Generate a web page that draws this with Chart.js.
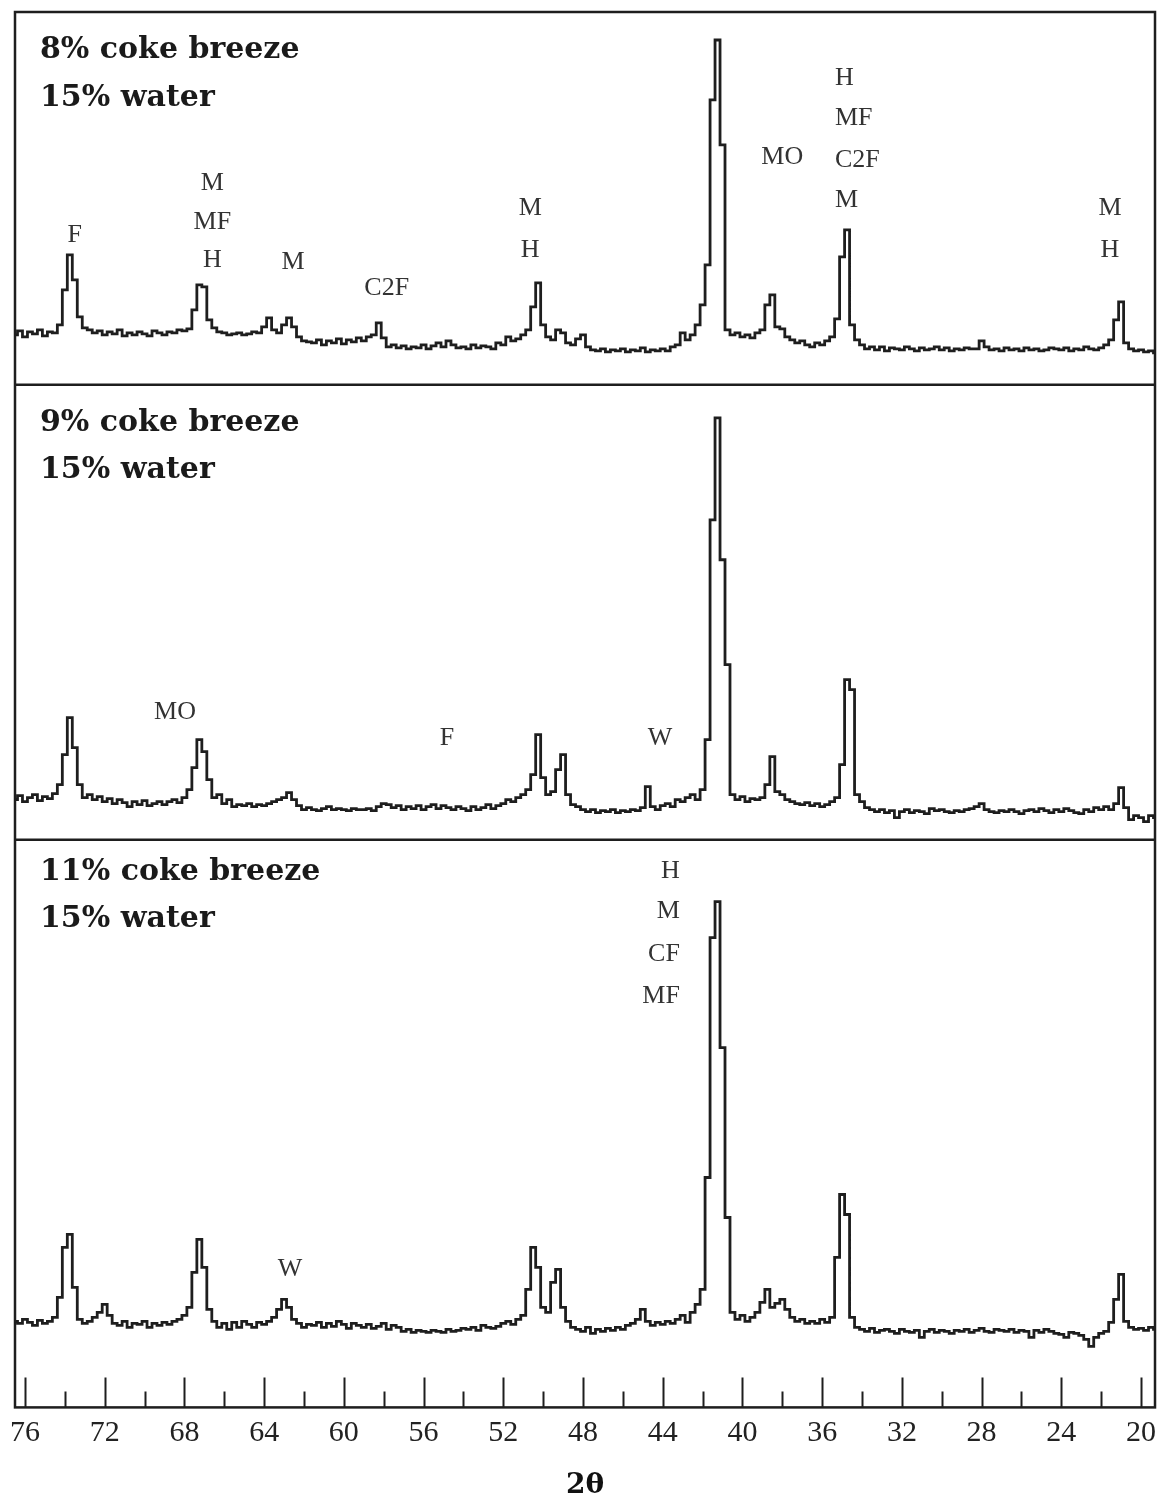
<!DOCTYPE html>
<html>
<head>
<meta charset="utf-8">
<title>XRD patterns - coke breeze</title>
<script src="https://cdn.jsdelivr.net/npm/chart.js@4.4.1/dist/chart.umd.min.js"></script>
<style>
  html, body { margin: 0; padding: 0; background: #fff; }
  #wrap { width: 1165px; height: 1503px; }
</style>
</head>
<body>
<div id="wrap"><canvas id="xrd" width="1165" height="1503"></canvas></div>
<script>
// scan grid: 76.5 -> 19.25 deg 2-theta, 0.25 deg step (230 points)
const scanStart = 76.5;
const scanStep = 0.25;
const scanPoints = 230;
const twoTheta = [];
for (let i = 0; i < scanPoints; i++) twoTheta.push(+(scanStart - i * scanStep).toFixed(2));

// axis labels
const tickLabels = [76, 72, 68, 64, 60, 56, 52, 48, 44, 40, 36, 32, 28, 24, 20];
const minorTicks = [74, 70, 66, 62, 58, 54, 50, 46, 42, 38, 34, 30, 26, 22];

// 8% coke breeze, 15% water (intensity, arb. units)
const intensity8 = [
  50, 54, 48, 53, 51, 55, 49, 53, 52, 60,
  95, 130, 105, 68, 57, 55, 52, 54, 50, 53,
  51, 55, 49, 52, 50, 53, 51, 49, 54, 52,
  50, 53, 52, 55, 54, 56, 75, 100, 98, 65,
  57, 53, 52, 50, 51, 52, 50, 51, 53, 52,
  58, 67, 55, 52, 60, 67, 58, 48, 44, 43,
  42, 45, 40, 44, 42, 46, 41, 45, 43, 47,
  44, 48, 50, 62, 47, 38, 40, 37, 39, 36,
  38, 37, 40, 36, 39, 42, 38, 44, 40, 37,
  38, 36, 40, 37, 39, 38, 36, 42, 40, 48,
  44, 46, 50, 55, 78, 102, 60, 48, 45, 55,
  52, 42, 40, 46, 50, 38, 35, 34, 36, 33,
  35, 34, 36, 33, 35, 34, 37, 33, 35, 34,
  36, 34, 38, 40, 52, 45, 50, 60, 80, 120,
  285, 345, 240, 55, 50, 52, 48, 50, 47, 52,
  55, 80, 90, 58, 56, 48, 45, 42, 44, 40,
  38, 42, 40, 44, 48, 66, 128, 155, 60, 45,
  40, 36, 38, 35, 38, 34, 37, 36, 35, 38,
  36, 34, 37, 35, 36, 38, 35, 37, 34, 36,
  35, 37, 36, 36, 44, 38, 35, 36, 34, 37,
  35, 36, 34, 37, 35, 36, 34, 35, 37, 36,
  35, 37, 34, 36, 35, 38, 36, 35, 37, 40,
  45, 65, 83, 42, 36, 34, 35, 33, 34, 32
];

// 9% coke breeze, 15% water
const intensity9 = [
  40, 44, 38, 42, 45, 39, 43, 41, 46, 55,
  85, 122, 92, 55, 42, 45, 40, 43, 38, 41,
  36, 40, 37, 33, 38, 35, 39, 34, 36, 38,
  35, 38, 40, 37, 42, 50, 72, 100, 88, 60,
  42, 45, 36, 40, 33, 35, 34, 36, 33, 35,
  34, 36, 38, 40, 42, 47, 40, 34, 30, 32,
  30, 29, 31, 33, 30, 31, 30, 29, 31, 30,
  30, 31, 29, 33, 36, 35, 32, 34, 30, 33,
  31, 34, 30, 33, 35, 31, 34, 32, 30, 33,
  31, 29, 33, 30, 32, 35, 31, 34, 36, 40,
  38, 42, 45, 50, 65, 105, 62, 45, 48, 70,
  85, 45, 35, 33, 30, 28, 30, 27, 29, 28,
  30, 27, 29, 28, 30, 29, 32, 53, 33, 30,
  34, 36, 33, 40, 38, 42, 45, 40, 50, 100,
  320, 422, 280, 175, 45, 40, 43, 38, 41, 40,
  42, 55, 83, 48, 45, 40, 38, 36, 35, 37,
  34, 36, 33, 35, 38, 42, 75, 160, 150, 45,
  38, 32, 30, 28, 30, 27, 29, 22, 28, 30,
  27, 29, 28, 26, 31, 29, 30, 28, 27, 29,
  28, 30, 31, 33, 36, 30, 28, 27, 29, 28,
  30, 28, 26, 29, 30, 28, 31, 29, 27, 30,
  28, 31, 29, 27, 26, 30, 28, 32, 30, 33,
  30, 36, 52, 32, 20, 24, 22, 18, 24, 22
];

// 11% coke breeze, 15% water
const intensity11 = [
  86, 84, 88, 85, 82, 87, 84, 86, 90, 110,
  160, 173, 120, 88, 84, 86, 90, 95, 103, 92,
  84, 82, 86, 80, 84, 83, 86, 80, 84, 82,
  85, 83, 86, 88, 92, 100, 135, 168, 140, 98,
  86, 80, 84, 78, 85, 80, 86, 83, 80, 85,
  83, 86, 90, 98, 108, 100, 88, 84, 80, 83,
  82, 85, 80, 84, 81, 86, 83, 79, 84, 82,
  80, 83, 79, 81, 84, 78, 82, 80, 76, 78,
  75, 77, 76, 75, 77, 76, 75, 78, 76, 77,
  79, 78, 80, 77, 82, 80, 79, 81, 84, 86,
  83, 88, 92, 118, 160, 140, 100, 95, 125, 138,
  100, 86, 80, 78, 76, 80, 74, 78, 76, 79,
  77, 80, 78, 82, 84, 88, 98, 86, 82, 85,
  83, 86, 84, 88, 92, 85, 95, 103, 118, 230,
  470, 506, 360, 190, 95, 88, 92, 86, 90, 95,
  105, 118, 100, 104, 108, 98, 90, 86, 88, 84,
  86, 84, 88, 85, 90, 150, 213, 193, 90, 80,
  78, 76, 79, 75, 77, 78, 76, 74, 78, 76,
  75, 77, 70, 76, 78, 75, 77, 76, 74, 77,
  76, 78, 75, 77, 79, 76, 75, 78, 77, 76,
  78, 75, 77, 76, 70, 77, 75, 78, 76, 74,
  73, 70, 75, 74, 72, 68, 61, 70, 74, 76,
  85, 108, 133, 86, 80, 78, 79, 77, 80, 78
];

// panel captions
const captions = {
  yTop: ['8% coke breeze', '15% water'],
  yMiddle: ['9% coke breeze', '15% water'],
  yBottom: ['11% coke breeze', '15% water']
};
const captionOffsets = { yTop: [38, 86], yMiddle: [38, 85], yBottom: [33, 80] };

// phase identification labels (F, M, H, MF, C2F, CF, MO, W)
const phaseLabels = [
  { panel: 'yTop', at: 73.5, level: 150, text: 'F' },
  { panel: 'yTop', at: 66.6, level: 202, text: 'M' },
  { panel: 'yTop', at: 66.6, level: 163, text: 'MF' },
  { panel: 'yTop', at: 66.6, level: 125, text: 'H' },
  { panel: 'yTop', at: 62.55, level: 123, text: 'M' },
  { panel: 'yTop', at: 57.85, level: 97, text: 'C2F' },
  { panel: 'yTop', at: 50.65, level: 177, text: 'M' },
  { panel: 'yTop', at: 50.65, level: 135, text: 'H' },
  { panel: 'yTop', at: 38.0, level: 228, text: 'MO' },
  { panel: 'yTop', at: 35.36, level: 307, text: 'H', align: 'left' },
  { panel: 'yTop', at: 35.36, level: 267, text: 'MF', align: 'left' },
  { panel: 'yTop', at: 35.36, level: 225, text: 'C2F', align: 'left' },
  { panel: 'yTop', at: 35.36, level: 185, text: 'M', align: 'left' },
  { panel: 'yTop', at: 21.56, level: 177, text: 'M' },
  { panel: 'yTop', at: 21.56, level: 135, text: 'H' },
  { panel: 'yMiddle', at: 68.47, level: 128, text: 'MO' },
  { panel: 'yMiddle', at: 54.83, level: 102, text: 'F' },
  { panel: 'yMiddle', at: 44.14, level: 102, text: 'W' },
  { panel: 'yBottom', at: 43.14, level: 536, text: 'H', align: 'right' },
  { panel: 'yBottom', at: 43.14, level: 496, text: 'M', align: 'right' },
  { panel: 'yBottom', at: 43.14, level: 453, text: 'CF', align: 'right' },
  { panel: 'yBottom', at: 43.14, level: 411, text: 'MF', align: 'right' },
  { panel: 'yBottom', at: 62.7, level: 138, text: 'W' }
];

const ink = '#1e1e1e';

function toPoints(values) {
  return values.map((v, i) => ({ x: twoTheta[i], y: v }));
}

function panelAxis(height) {
  return {
    type: 'linear',
    position: 'left',
    stack: 'xrd',
    stackWeight: height,
    min: 0,
    max: height,
    grid: { display: false, drawTicks: false },
    ticks: { display: false },
    border: { display: false }
  };
}

// frame, separators, inner ticks, captions and phase labels
const decorPlugin = {
  id: 'decor',
  afterDatasetsDraw(chart) {
    const { ctx, chartArea: a, scales } = chart;
    const x = scales.x;
    ctx.save();
    ctx.strokeStyle = ink;
    ctx.lineWidth = 2.5;
    ctx.strokeRect(a.left, a.top, a.right - a.left, a.bottom - a.top);
    ctx.beginPath();
    [scales.yTop.bottom, scales.yMiddle.bottom].forEach(y => {
      ctx.moveTo(a.left, y);
      ctx.lineTo(a.right, y);
    });
    ctx.stroke();

    ctx.lineWidth = 2;
    ctx.beginPath();
    tickLabels.forEach(v => {
      const px = Math.round(x.getPixelForValue(v)) + 0.5;
      ctx.moveTo(px, a.bottom);
      ctx.lineTo(px, a.bottom - 30);
    });
    minorTicks.forEach(v => {
      const px = Math.round(x.getPixelForValue(v)) + 0.5;
      ctx.moveTo(px, a.bottom);
      ctx.lineTo(px, a.bottom - 16);
    });
    ctx.stroke();

    ctx.fillStyle = '#1a1a1a';
    ctx.font = 'bold 30px "DejaVu Serif"';
    ctx.textAlign = 'left';
    ctx.textBaseline = 'middle';
    Object.keys(captions).forEach(key => {
      const s = scales[key];
      captions[key].forEach((line, k) => {
        ctx.fillText(line, a.left + 25, s.top + captionOffsets[key][k]);
      });
    });

    ctx.fillStyle = '#333';
    ctx.font = '26px "Liberation Serif"';
    phaseLabels.forEach(p => {
      ctx.textAlign = p.align || 'center';
      ctx.fillText(p.text, x.getPixelForValue(p.at), scales[p.panel].getPixelForValue(p.level));
    });
    ctx.restore();
  }
};

const lineStyle = {
  borderColor: ink,
  borderWidth: 2.8,
  pointRadius: 0,
  stepped: 'middle',
  fill: false
};

new Chart(document.getElementById('xrd'), {
  type: 'line',
  data: {
    datasets: [
      { label: '8% coke breeze', data: toPoints(intensity8), yAxisID: 'yTop', ...lineStyle },
      { label: '9% coke breeze', data: toPoints(intensity9), yAxisID: 'yMiddle', ...lineStyle },
      { label: '11% coke breeze', data: toPoints(intensity11), yAxisID: 'yBottom', ...lineStyle }
    ]
  },
  options: {
    responsive: false,
    animation: false,
    layout: { padding: { left: 15, right: 10, top: 12, bottom: 0 } },
    plugins: {
      legend: { display: false },
      tooltip: { enabled: false }
    },
    scales: {
      x: {
        type: 'linear',
        reverse: true,
        min: 19.3,
        max: 76.5,
        afterBuildTicks: s => { s.ticks = tickLabels.map(v => ({ value: v })); },
        grid: { display: false, drawTicks: false },
        border: { display: false },
        ticks: {
          autoSkip: false,
          maxRotation: 0,
          padding: 8,
          color: '#222',
          font: { family: 'Liberation Serif', size: 30 }
        },
        title: {
          display: true,
          text: '2θ',
          color: '#111',
          padding: { top: 10, bottom: 0 },
          font: { family: 'DejaVu Serif', weight: 'bold', size: 28 }
        }
      },
      yBottom: panelAxis(568),
      yMiddle: panelAxis(455),
      yTop: panelAxis(373)
    }
  },
  plugins: [decorPlugin]
});
</script>
</body>
</html>
